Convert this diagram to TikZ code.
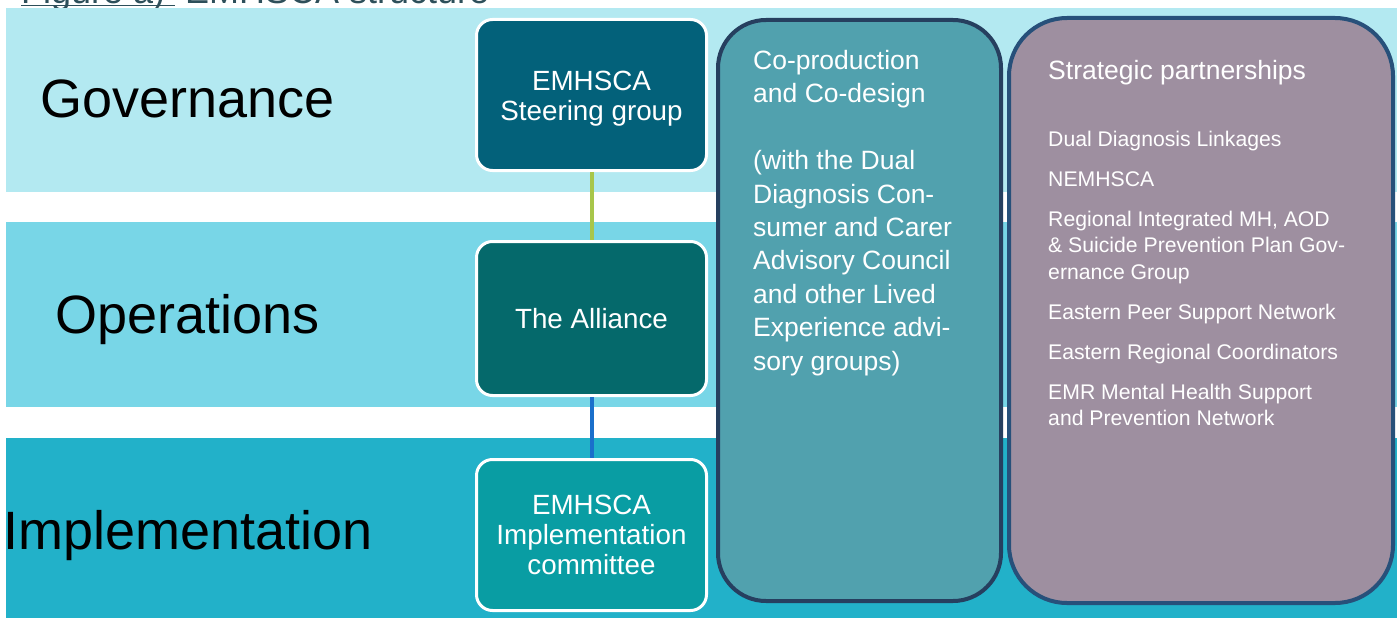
\documentclass[tikz,border=0pt]{standalone}
\usepackage{fontspec}
\setmainfont{Liberation Sans}
\definecolor{bandA}{HTML}{B3E9F1}
\definecolor{bandB}{HTML}{78D6E7}
\definecolor{bandC}{HTML}{22B1C9}
\definecolor{steer}{HTML}{03617A}
\definecolor{alli}{HTML}{05696B}
\definecolor{impl}{HTML}{099DA3}
\definecolor{coprod}{HTML}{51A1AE}
\definecolor{coprodline}{HTML}{263F5F}
\definecolor{strat}{HTML}{9E8FA0}
\definecolor{stratline}{HTML}{27507A}
\definecolor{linkgreen}{HTML}{A8C64A}
\definecolor{linkblue}{HTML}{1A6FCB}
\definecolor{titlecol}{HTML}{2D4F5A}
\begin{document}
\begin{tikzpicture}[x=1pt,y=-1pt,
  band/.style={fill=#1, draw=none},
  bandlabel/.style={anchor=base west, inner sep=0pt, text=black, font=\fontsize{54}{60}\selectfont},
  unitbox/.style={fill=#1, draw=white, line width=3pt, rounded corners=16pt,
    minimum width=230pt, minimum height=151pt, inner sep=0pt, text=white,
    align=center, font=\fontsize{27.8}{30}\selectfont},
  bigbox/.style={line width=4pt, inner sep=0pt},
  boxtext/.style={anchor=base west, inner sep=0pt, text=white, align=left},
  link/.style={line width=4pt}
]
\useasboundingbox (0,0) rectangle (1400,618);
\clip (0,0) rectangle (1400,618);
\fill[white] (0,0) rectangle (1400,618);

% title (cut off at the top)
\node[anchor=base west, inner sep=0pt, text=titlecol, font=\fontsize{36}{40}\selectfont] (ta) at (21,3.5) {Figure a)};
\node[anchor=base west, inner sep=0pt, text=titlecol, font=\fontsize{36}{40}\selectfont] (tb) at (185,3.5) {EMHSCA structure};
\draw[titlecol, line width=1.5pt] ([yshift=-2pt]ta.base west) -- ([yshift=-2pt,xshift=10pt]ta.base east);

% bands
\path[band=bandA] (6,8) rectangle (1397,192);
\path[band=bandB] (6,222) rectangle (1397,407);
\path[band=bandC] (6,438) rectangle (1397,618);

% band labels
\node[bandlabel] (gov) at (40,117) {Governance};
\node[bandlabel] (ops) at (55,333) {Operations};
\node[bandlabel] (imp) at (3,549) {Implementation};

% unit boxes
\node[unitbox=steer, text height=55.9pt] (sg) at (591.5,95) {EMHSCA\\Steering group};
\node[unitbox=alli, minimum height=154pt] (al) at (591.5,318.5) {The Alliance};
\node[unitbox=impl] (ic) at (591.5,535) {EMHSCA\\Implementation\\committee};

% connectors
\draw[link, linkgreen] (sg.south) -- (al.north);
\draw[link, linkblue] (al.south) -- (ic.north);

% co-production box
\node[bigbox, draw=coprodline, fill=coprod, rounded corners=48pt,
      minimum width=283pt, minimum height=581pt] (cp) at (859.5,310.5) {};
\node[boxtext, font=\fontsize{26.5}{33.4}\selectfont] (cptext) at (753,370)
 {Co-production\\and Co-design\\[33.4pt](with the Dual\\Diagnosis Con-\\sumer and Carer\\Advisory Council\\and other Lived\\Experience advi-\\sory groups)};

% strategic partnerships box
\node[bigbox, draw=stratline, fill=strat, rounded corners=58pt,
      minimum width=384pt, minimum height=585pt] (sp) at (1201,310.5) {};
\node[boxtext, font=\fontsize{26.5}{30}\selectfont] (sptitle) at (1048,79.5) {Strategic partnerships};
\node[boxtext, font=\fontsize{21.2}{26.5}\selectfont] (spitems) at (1048,425.8)
 {Dual Diagnosis Linkages\\[13.5pt]NEMHSCA\\[13.5pt]Regional Integrated MH, AOD\\\& Suicide Prevention Plan Gov-\\ernance Group\\[13.5pt]Eastern Peer Support Network\\[13.5pt]Eastern Regional Coordinators\\[13.5pt]EMR Mental Health Support\\and Prevention Network};
\end{tikzpicture}
\end{document}
